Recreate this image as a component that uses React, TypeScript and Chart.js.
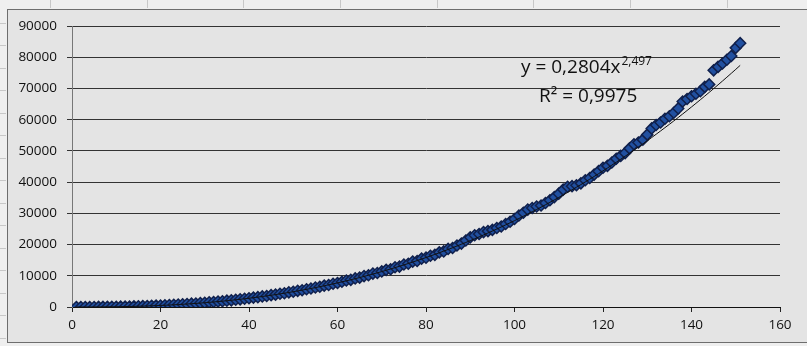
import React, { useEffect, useRef } from "react";
import { Chart, registerables } from "chart.js";

Chart.register(...registerables);

// Day index of the first observation; one observation per step of 1.
const START_X = 1;

const observed: number[] = [
  1, 3, 6, 11, 17, 26, 38, 52, 69, 91,
  115, 136, 172, 201, 248, 281, 336, 378, 445, 492,
  571, 622, 715, 776, 880, 948, 1065, 1140, 1270, 1355,
  1500, 1590, 1755, 1860, 2030, 2140, 2330, 2455, 2660, 2790,
  3010, 3150, 3390, 3540, 3800, 3960, 4230, 4390, 4700, 4880,
  5180, 5370, 5700, 5910, 6260, 6470, 6850, 7060, 7450, 7690,
  8100, 8480, 8700, 9150, 9400, 9900, 10150, 10700, 10900, 11400,
  11900, 12100, 12750, 12950, 13600, 13850, 14550, 14750, 15500, 15800,
  16400, 16700, 17500, 17800, 18600, 18900, 19700, 20300, 21300, 22300,
  23000, 23400, 24000, 24300, 24700, 25300, 25800, 26600, 27300, 28200,
  29300, 30200, 31200, 31700, 32200, 32500, 33300, 34200, 35200, 36300,
  37600, 38500, 38700, 39000, 39600, 40600, 41300, 42400, 43500, 44600,
  45200, 46300, 47500, 48400, 49300, 50800, 52100, 52700, 53600, 55200,
  57200, 58300, 59100, 60300, 61100, 62200, 63600, 65800, 66600, 67500,
  68300, 69100, 70500, 71300, 75800, 76900, 78000, 79200, 80400, 83000, 84500,
];

// Axis ticks
const xTicks = [0, 20, 40, 60, 80, 100, 120, 140, 160];
const yTicks = [0, 10000, 20000, 30000, 40000, 50000, 60000, 70000, 80000, 90000];

// Power trendline shown on the chart: y = a * x^b
const TREND_A = 0.2804;
const TREND_B = 2.497;
const equationMain = "y = 0,2804x";
const equationExp = "2,497";
const r2Label = "R² = 0,9975";

const FONT = "'Open Sans', 'Liberation Sans', sans-serif";

export default function App() {
  const canvasRef = useRef<HTMLCanvasElement | null>(null);

  useEffect(() => {
    const canvas = canvasRef.current;
    if (!canvas) return;

    const points = observed.map((v, i) => ({ x: START_X + i, y: v }));
    const trend = observed.map((_, i) => {
      const x = START_X + i;
      return { x, y: TREND_A * Math.pow(x, TREND_B) };
    });

    const background = {
      id: "bg",
      beforeDraw(chart: any) {
        const ctx = chart.ctx as CanvasRenderingContext2D;
        const w = chart.width;
        const h = chart.height;
        ctx.save();
        ctx.fillStyle = "#efefef";
        ctx.fillRect(0, 0, w, h);
        ctx.fillStyle = "#e4e4e4";
        ctx.fillRect(8, 9, w - 8, 334);
        ctx.strokeStyle = "#6e6e6e";
        ctx.lineWidth = 1;
        ctx.beginPath();
        ctx.moveTo(7.5, 9);
        ctx.lineTo(7.5, 343);
        ctx.moveTo(7, 9.5);
        ctx.lineTo(w, 9.5);
        ctx.moveTo(7, 342.5);
        ctx.lineTo(w, 342.5);
        ctx.stroke();
        // faint spreadsheet cell marks outside the chart frame
        ctx.strokeStyle = "#c8c8c8";
        ctx.beginPath();
        [50, 147, 243, 340, 437, 533, 630, 727].forEach((x) => {
          ctx.moveTo(x + 0.5, 0);
          ctx.lineTo(x + 0.5, 8);
        });
        [23, 45, 68, 90, 113, 135, 158, 180, 203, 225, 248, 270, 293, 315, 338].forEach((y) => {
          ctx.moveTo(0, y + 0.5);
          ctx.lineTo(6, y + 0.5);
        });
        ctx.stroke();
        ctx.restore();
      },
    };

    const equation = {
      id: "equation",
      afterDraw(chart: any) {
        const ctx = chart.ctx as CanvasRenderingContext2D;
        ctx.save();
        ctx.fillStyle = "#111";
        ctx.textBaseline = "alphabetic";
        ctx.textAlign = "left";
        ctx.font = `19px ${FONT}`;
        const x0 = 521;
        ctx.fillText(equationMain, x0, 73);
        const wMain = ctx.measureText(equationMain).width;
        ctx.font = `12px ${FONT}`;
        ctx.fillText(equationExp, x0 + wMain + 1, 65);
        ctx.font = `19px ${FONT}`;
        ctx.fillText(r2Label, 539, 102);
        ctx.restore();
      },
    };

    const chart = new Chart(canvas, {
      type: "scatter",
      data: {
        datasets: [
          {
            label: "Trend",
            data: trend,
            showLine: true,
            borderColor: "#111111",
            borderWidth: 1,
            pointRadius: 0,
            fill: false,
          },
          {
            label: "Data",
            data: points,
            pointStyle: "rectRot",
            pointRadius: 5.5,
            pointBackgroundColor: "#2150a0",
            pointBorderColor: "#10204c",
            pointBorderWidth: 1.5,
            showLine: false,
          },
        ],
      },
      options: {
        responsive: false,
        animation: false,
        events: [],
        layout: { padding: { left: 0, right: 27, top: 26, bottom: 0 } },
        plugins: {
          legend: { display: false },
          tooltip: { enabled: false },
        },
        scales: {
          x: {
            type: "linear",
            min: xTicks[0],
            max: xTicks[xTicks.length - 1],
            afterBuildTicks(scale: any) {
              scale.ticks = xTicks.map((v) => ({ value: v }));
            },
            ticks: {
              padding: 5,
              color: "#111",
              font: { family: FONT, size: 13.5 },
              callback: (v: any) => String(v),
              maxRotation: 0,
            },
            grid: {
              drawOnChartArea: false,
              drawTicks: true,
              tickLength: 5,
              color: "#222",
            },
            border: { display: true, color: "#111", width: 1 },
            afterFit(scale: any) {
              scale.height = 39;
            },
          },
          y: {
            type: "linear",
            min: yTicks[0],
            max: yTicks[yTicks.length - 1],
            afterBuildTicks(scale: any) {
              scale.ticks = yTicks.map((v) => ({ value: v }));
            },
            ticks: {
              padding: 10,
              color: "#111",
              font: { family: FONT, size: 13.5 },
              callback: (v: any) => String(v),
            },
            grid: {
              color: "#333",
              lineWidth: 1,
              drawTicks: true,
              tickLength: 5,
            },
            border: { display: true, color: "#777", width: 1 },
            afterFit(scale: any) {
              scale.width = 72;
            },
          },
        },
      },
      plugins: [background, equation],
    });

    return () => chart.destroy();
  }, []);

  return (
    <div style={{ position: "fixed", left: 0, top: 0, width: 807, height: 346 }}>
      <canvas ref={canvasRef} width={807} height={346} style={{ display: "block" }} />
    </div>
  );
}
